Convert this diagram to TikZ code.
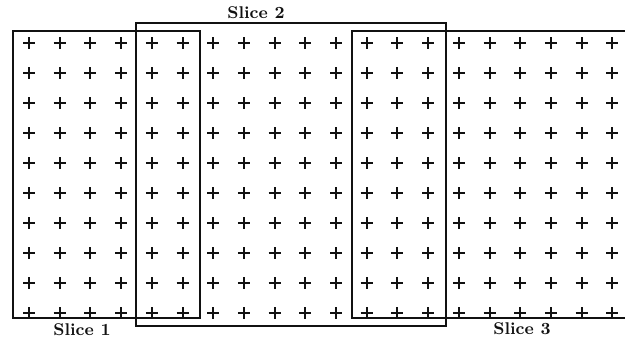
\documentclass[tikz,border=0pt]{standalone}
\usetikzlibrary{positioning}
\definecolor{sliceink}{HTML}{111111}
\newcommand{\plusat}[2]{\draw[sliceink,line width=1pt] (#1-6,#2)--(#1+6,#2) (#1,#2-6)--(#1,#2+6);}
\tikzset{slicebox/.style={sliceink,line width=1.3pt},slicelabel/.style={font=\fontsize{8.5}{10}\selectfont\bfseries,text=sliceink,inner sep=0pt}}

\begin{document}
\begin{tikzpicture}[x=0.5pt,y=-0.5pt]
\useasboundingbox (0,0) rectangle (625,338);
% grid of sample points
\foreach \c in {0,...,19}{\foreach \r in {0,...,9}{\plusat{29+30.7*\c}{43+30*\r}}}
% slices
\draw[slicebox] (13,31) rectangle (200,318);\draw[slicebox] (136,23) rectangle (446,326);
\draw[slicebox] (625,31)--(352,31)--(352,318)--(625,318);
\node[slicelabel] (slice1) at (82,330){Slice 1};\node[slicelabel] (slice2) at (256,13){Slice 2};
\node[slicelabel] (slice3) at (522,329){Slice 3};
\end{tikzpicture}
\end{document}
